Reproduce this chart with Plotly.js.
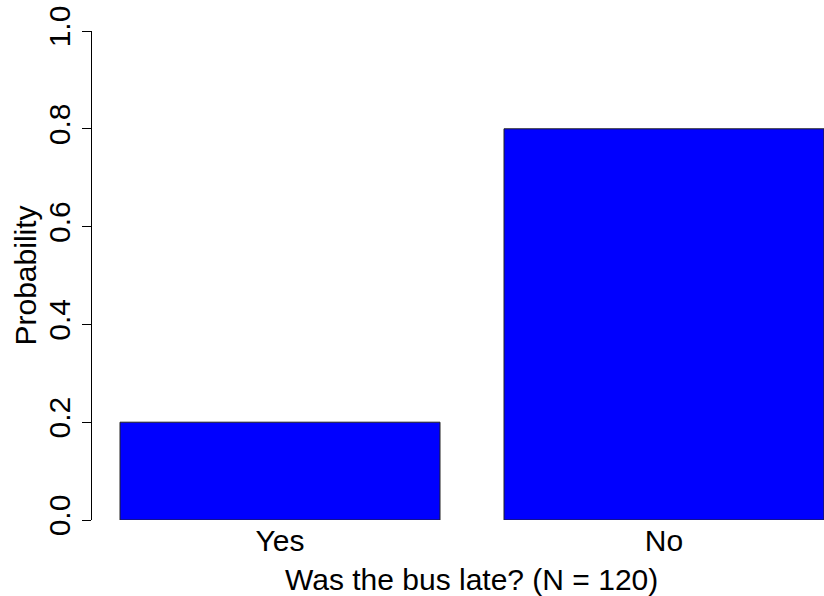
<!DOCTYPE html>
<html>
<head>
<meta charset="utf-8">
<script src="https://cdn.plot.ly/plotly-3.0.1.min.js"></script>
<style>html,body{margin:0;padding:0;background:#fff;}#chart{width:824px;height:596px;}</style>
</head>
<body>
<div id="chart"></div>
<script>
var categories = ["Yes", "No"];
var probabilities = [0.2, 0.8];
var yTickValues = [0, 0.2, 0.4, 0.6, 0.8, 1.0];
var yTickLabels = ["0.0", "0.2", "0.4", "0.6", "0.8", "1.0"];
var xTitle = "Was the bus late? (N = 120)";
var yTitle = "Probability";

// R barplot layout: width 1, space 0.2
var positions = categories.map(function (c, i) { return 0.2 + i * 1.2 + 0.5; });

var W = 824, H = 596;
var L = 92, T = 31, B = 75.5;
var pxPerUnit = 320;
var xmin = 0.2 - (120 - L) / pxPerUnit;
var xmax = xmin + (W - L) / pxPerUnit;
var font = "Liberation Sans, Arial, Helvetica, sans-serif";
var FS = 30;

var trace = {
  type: "bar",
  x: positions,
  y: probabilities,
  width: 1,
  marker: { color: "#0000FF", line: { color: "#222222", width: 1 } },
  hoverinfo: "none"
};

var layout = {
  width: W, height: H,
  margin: { l: L, r: 0, t: T, b: B, pad: 0 },
  paper_bgcolor: "#ffffff",
  plot_bgcolor: "#ffffff",
  showlegend: false,
  font: { family: font, color: "#000000", size: FS },
  xaxis: {
    range: [xmin, xmax],
    tickvals: positions,
    ticktext: categories,
    ticks: "",
    showline: false,
    showgrid: false,
    zeroline: false,
    tickfont: { family: font, size: FS, color: "#000" },
    fixedrange: true
  },
  yaxis: {
    range: [0, 1],
    tickvals: yTickValues,
    ticktext: yTickLabels,
    ticks: "outside",
    ticklen: 9,
    tickwidth: 1,
    tickcolor: "#000",
    showline: true,
    linecolor: "#000",
    linewidth: 1,
    showgrid: false,
    zeroline: false,
    tickangle: -90,
    tickfont: { family: font, size: FS, color: "#000" },
    fixedrange: true
  },
  annotations: [
    {
      text: xTitle,
      xref: "x", yref: "paper",
      x: xmin + (471 - L) / pxPerUnit,
      y: (H - B - 580) / (H - T - B),
      xanchor: "center", yanchor: "middle",
      showarrow: false,
      font: { family: font, size: FS, color: "#000" }
    },
    {
      text: yTitle,
      xref: "paper", yref: "paper",
      x: (25 - L) / (W - L),
      y: 0.5,
      xanchor: "center", yanchor: "middle",
      textangle: -90,
      showarrow: false,
      font: { family: font, size: FS, color: "#000" }
    }
  ]
};

Plotly.newPlot("chart", [trace], layout, { displayModeBar: false, staticPlot: true });
</script>
</body>
</html>
